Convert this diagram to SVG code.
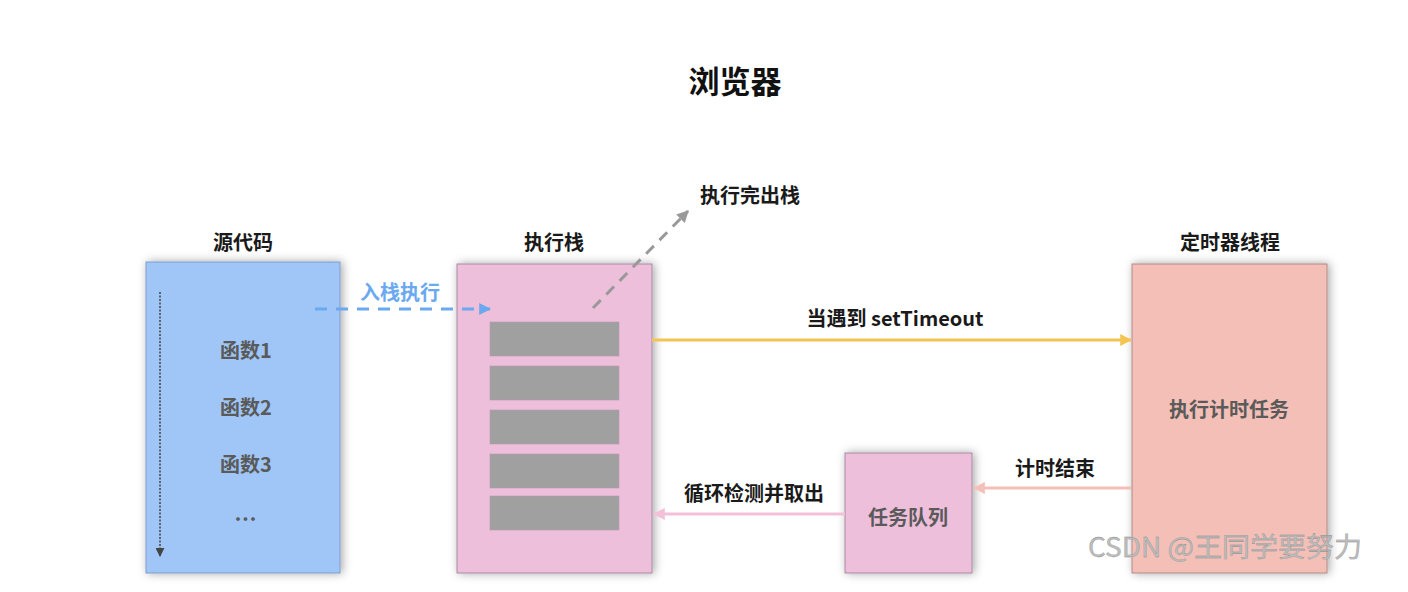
<svg xmlns="http://www.w3.org/2000/svg" width="1408" height="592" viewBox="0 0 1408 592">
<defs>
<style>
text{font-family:"Noto Sans CJK SC","Liberation Sans",sans-serif;}
.lbl{font-size:20px;font-weight:bold;fill:#1a1a1a;text-anchor:middle;}
.inner{font-size:20px;font-weight:bold;fill:#5a5a5a;text-anchor:middle;}
.box{stroke-width:1;filter:url(#sh);}
.bar{fill:#a0a0a0;stroke:#b59aae;stroke-width:0.6;}
</style>
<filter id="sh" x="-20%" y="-10%" width="140%" height="120%">
<feDropShadow dx="2" dy="0" stdDeviation="5" flood-color="#000" flood-opacity="0.35"/>
</filter>
<marker id="ablue" viewBox="0 0 10 10" refX="9" refY="5" markerWidth="4" markerHeight="4" orient="auto" markerUnits="strokeWidth"><path d="M0,0L10,5L0,10z" fill="#6aa9ef"/></marker>
<marker id="agray" viewBox="0 0 10 10" refX="9" refY="5" markerWidth="4" markerHeight="4" orient="auto" markerUnits="strokeWidth"><path d="M0,0L10,5L0,10z" fill="#999"/></marker>
<marker id="ayel" viewBox="0 0 10 10" refX="9" refY="5" markerWidth="4" markerHeight="4" orient="auto" markerUnits="strokeWidth"><path d="M0,0L10,5L0,10z" fill="#f4c453"/></marker>
<marker id="apink" viewBox="0 0 10 10" refX="9" refY="5" markerWidth="4" markerHeight="4" orient="auto" markerUnits="strokeWidth"><path d="M0,0L10,5L0,10z" fill="#f2c0d8"/></marker>
<marker id="asalmon" viewBox="0 0 10 10" refX="9" refY="5" markerWidth="4" markerHeight="4" orient="auto" markerUnits="strokeWidth"><path d="M0,0L10,5L0,10z" fill="#f4bfb6"/></marker>
<marker id="adark" viewBox="0 0 10 10" refX="9" refY="5" markerWidth="6" markerHeight="6" orient="auto" markerUnits="strokeWidth"><path d="M0,0L10,5L0,10z" fill="#444"/></marker>
</defs>
<rect width="1408" height="592" fill="#fff"/>
<text x="735" y="93" style="font-size:31px;font-weight:bold;fill:#111;text-anchor:middle;">浏览器</text>

<g id="source">
<text class="lbl" x="243" y="250">源代码</text>
<rect class="box" x="146" y="262" width="194" height="311" fill="#9fc6f7" stroke="#7f9ccc"/>
<line x1="160" y1="292" x2="160" y2="556" stroke="#444" stroke-width="1.5" stroke-dasharray="2,1.5" marker-end="url(#adark)"/>
<text class="inner" x="246" y="358">函数1</text>
<text class="inner" x="246" y="415">函数2</text>
<text class="inner" x="246" y="472">函数3</text>
<text class="inner" x="246" y="521" style="letter-spacing:1px;">...</text>
</g>

<g id="stack">
<text class="lbl" x="554" y="250">执行栈</text>
<rect class="box" x="457" y="264" width="195" height="309" fill="#eebfda" stroke="#a88aa0"/>
<rect class="bar" x="490" y="322" width="129" height="34"/>
<rect class="bar" x="490" y="366" width="129" height="34"/>
<rect class="bar" x="490" y="410" width="129" height="34"/>
<rect class="bar" x="490" y="454" width="129" height="34"/>
<rect class="bar" x="490" y="496" width="129" height="34"/>
</g>

<g id="timer">
<text class="lbl" x="1230" y="250">定时器线程</text>
<rect class="box" x="1132" y="264" width="195" height="309" fill="#f4bfb6" stroke="#b08a84"/>
<text class="inner" x="1229" y="417">执行计时任务</text>
</g>

<g id="queue">
<rect class="box" x="845" y="453" width="127" height="120" fill="#eebfda" stroke="#a88aa0"/>
<text class="inner" x="908" y="525">任务队列</text>
</g>

<g id="connectors">
<line x1="315" y1="309" x2="490" y2="309" stroke="#6aa9ef" stroke-width="3" stroke-dasharray="12,9" marker-end="url(#ablue)"/>
<text x="400" y="300" style="font-size:20px;font-weight:bold;fill:#6aa9ef;text-anchor:middle;">入栈执行</text>
<line x1="593" y1="308" x2="688" y2="211" stroke="#999" stroke-width="3" stroke-dasharray="11,8" marker-end="url(#agray)"/>
<text class="lbl" x="750" y="203">执行完出栈</text>
<line x1="652" y1="340" x2="1131" y2="340" stroke="#f4c453" stroke-width="3" marker-end="url(#ayel)"/>
<text class="lbl" x="895" y="326">当遇到 setTimeout</text>
<line x1="1131" y1="488" x2="974" y2="488" stroke="#f4bfb6" stroke-width="3" marker-end="url(#asalmon)"/>
<text class="lbl" x="1055" y="476">计时结束</text>
<line x1="845" y1="514" x2="654" y2="514" stroke="#f2c0d8" stroke-width="3" marker-end="url(#apink)"/>
<text class="lbl" x="754" y="501">循环检测并取出</text>
</g>

<text x="1088" y="557" textLength="274" lengthAdjust="spacingAndGlyphs" style="font-size:27px;fill:#bdbdbd;stroke:#888;stroke-width:0.3;">CSDN @王同学要努力</text>
</svg>
